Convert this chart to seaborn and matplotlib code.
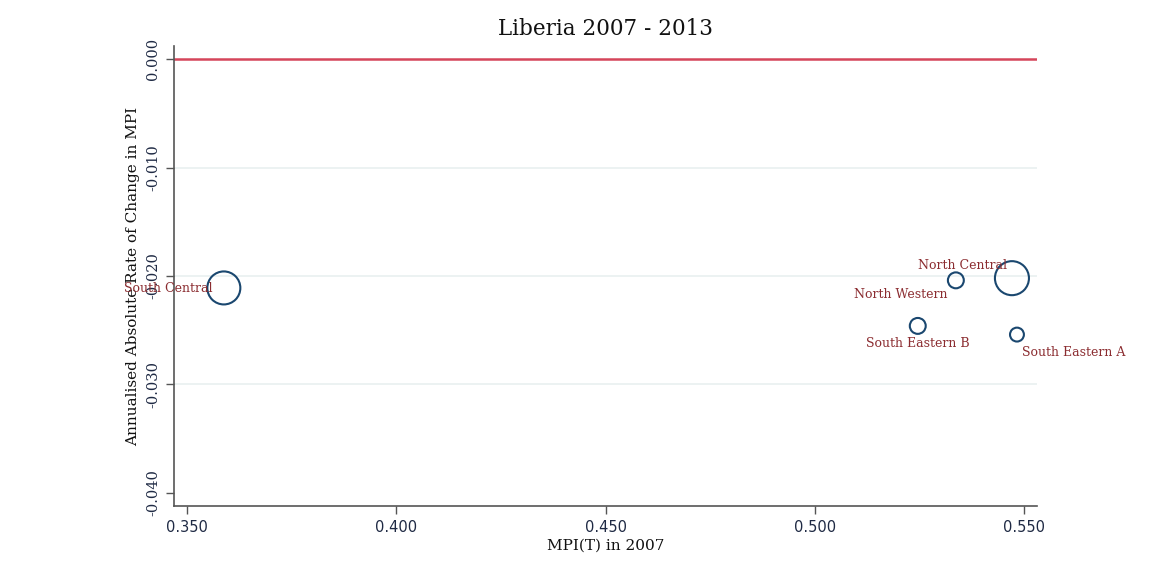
import matplotlib
matplotlib.use("Agg")
import matplotlib.pyplot as plt
import seaborn as sns
import pandas as pd

regions = ["South Central", "North Central", "North Western", "South Eastern B", "South Eastern A"]
mpi_2007 = [0.3588, 0.5471, 0.5337, 0.5246, 0.5483]
abs_change = [-0.0211, -0.0202, -0.0204, -0.0246, -0.0254]
pop_weight = [272, 289, 64, 64, 49]

x_ticks = [0.35, 0.40, 0.45, 0.50, 0.55]
y_ticks = [0.0, -0.01, -0.02, -0.03, -0.04]

df = pd.DataFrame({"region": regions, "mpi": mpi_2007, "change": abs_change, "w": pop_weight})

sns.set_theme(style="white")
plt.rcParams["font.family"] = ["DejaVu Serif", "Liberation Serif"]

fig = plt.figure(figsize=(11.51, 5.75), dpi=100)
ax = fig.add_axes([0.1512, 0.12, 0.901 - 0.1512, 0.92 - 0.12])

# gridlines
for yv in y_ticks[1:4]:
    ax.axhline(yv, color="#e9f0f0", lw=1.2, zorder=0)
ax.axhline(0.0, color="#d5455b", lw=1.8, zorder=1)

sns.scatterplot(data=df, x="mpi", y="change", size="w", sizes=(100, 600),
                size_norm=(49, 289), legend=False, ax=ax,
                edgecolor="#1a476f", linewidth=1.5, zorder=3)
for coll in ax.collections:
    coll.set_facecolor("none")

# label placement (pixel offsets, alignment)
label_pos = {
    "South Central": (-11, -1, "right"),
    "North Central": (-5, 13, "right"),
    "North Western": (-8, -14, "right"),
    "South Eastern B": (0, -18, "center"),
    "South Eastern A": (5, -18, "left"),
}
for r, xv, yv in zip(regions, mpi_2007, abs_change):
    dx, dy, ha = label_pos[r]
    ax.annotate(r, (xv, yv), xytext=(dx, dy), textcoords="offset pixels",
                ha=ha, va="center", fontsize=9, color="#8b2c30",
                annotation_clip=False, zorder=4)

ax.set_xlim(0.3469, 0.5531)
ax.set_ylim(-0.0412, 0.0012)
ax.set_xticks(x_ticks)
ax.set_xticklabels([f"{v:.3f}" for v in x_ticks], fontsize=10.5,
                   family=["DejaVu Sans"], color="#1f2a44")
ax.set_yticks(y_ticks)
ax.set_yticklabels([f"{v:.3f}" for v in y_ticks], fontsize=10.5, rotation=90,
                   va="center", color="#1f2a44")
ax.tick_params(axis="both", direction="out", length=6, width=1, color="#555555",
               bottom=True, left=True)
ax.tick_params(axis="x", pad=4)
ax.tick_params(axis="y", pad=4)

for s in ["top", "right"]:
    ax.spines[s].set_visible(False)
for s in ["left", "bottom"]:
    ax.spines[s].set_color("#555555")
    ax.spines[s].set_linewidth(1.2)

ax.set_xlabel("MPI(T) in 2007", fontsize=11, color="#111111", labelpad=3)
ax.set_ylabel("Annualised Absolute Rate of Change in MPI", fontsize=11, color="#111111", labelpad=4)
ax.set_title("Liberia 2007 - 2013", fontsize=15.5, color="#111111", pad=8)

fig.savefig("out.png", dpi=100, facecolor="white")
